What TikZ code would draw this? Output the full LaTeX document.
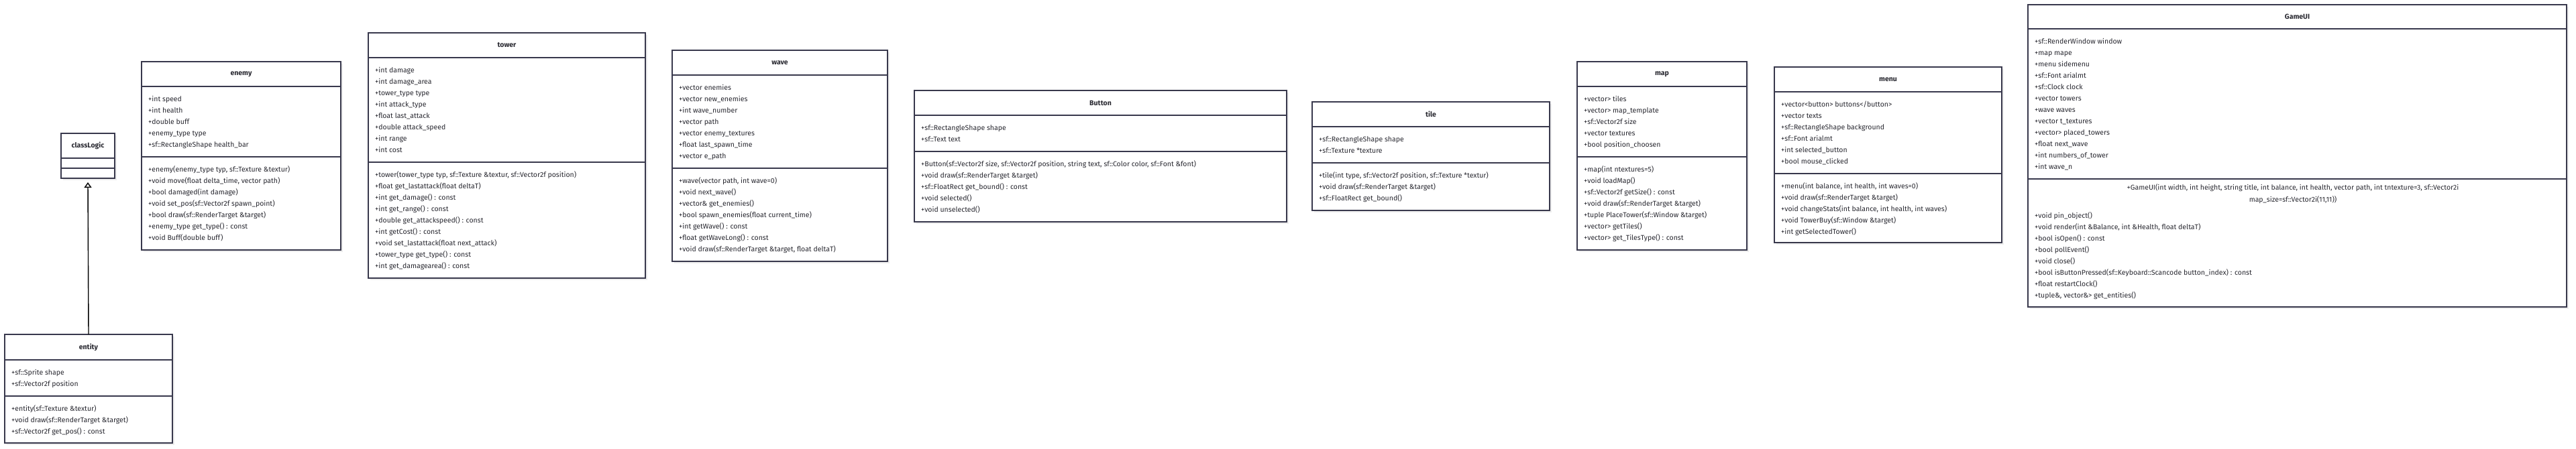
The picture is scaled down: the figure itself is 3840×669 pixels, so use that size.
\documentclass[tikz,border=0pt]{standalone}
\usepackage{fontspec}
\setmainfont{Fira Sans}
\usetikzlibrary{arrows.meta}
\definecolor{boxline}{RGB}{56,56,76}
\definecolor{txt}{RGB}{40,40,48}
\newcommand\ql{\strut}
\newcommand\ubox[5]{%
  \node[shadowbox, minimum width=#4pt, minimum height=#5pt] (#1-sh) at (#2+3,#3+3) {};
  \node[classbox, minimum width=#4pt, minimum height=#5pt] (#1) at (#2,#3) {};
}
\begin{document}
\begin{tikzpicture}[x=1pt,y=-1pt,
  classbox/.style={draw=boxline, line width=1.8pt, fill=white, inner sep=0pt, outer sep=0pt, anchor=north west},
  shadowbox/.style={fill=black!7, draw=none, inner sep=0pt, outer sep=0pt, anchor=north west},
  sepline/.style={draw=boxline, line width=1.8pt},
  hdr/.style={font=\fontsize{10.5}{17}\selectfont\bfseries, text=txt, inner sep=0pt},
  comp/.style={font=\fontsize{10.5}{17}\selectfont, text=txt, inner sep=0pt, anchor=north west, align=left},
  ctor/.style={font=\fontsize{10.5}{18}\selectfont, text=txt, inner sep=0pt, anchor=north, align=center},
  inherit/.style={draw=black, line width=1.4pt, -{Triangle[open, width=11pt, length=8pt, fill=white]}}
]
\fill[white] (0,0) rectangle (3840,669);
\useasboundingbox (0,0) rectangle (3840,669);

% classLogic
\ubox{classLogic}{91}{199}{80}{67}
\node[hdr] (classLogic-h) at (131,217.5) {classLogic};
\draw[sepline] (91,236) -- (171,236);
\draw[sepline] (91,251) -- (171,251);

% entity
\ubox{entity}{7}{499}{250}{162}
\node[hdr] (entity-h) at (132,518) {entity};
\draw[sepline] (7,537) -- (257,537);
\draw[sepline] (7,591) -- (257,591);
\node[comp] (entity-a) at (17,547) {\ql+sf::Sprite shape\\\ql+sf::Vector2f position};
\node[comp] (entity-m) at (17,601) {\ql+entity(sf::Texture \&textur)\\\ql+void draw(sf::RenderTarget \&target)\\\ql+sf::Vector2f get\_pos() : const};

\draw[inherit] (entity.north) -- ([yshift=-6pt]classLogic.south);

% enemy
\ubox{enemy}{211}{92}{297}{281}
\node[hdr] (enemy-h) at (359.5,110.5) {enemy};
\draw[sepline] (211,129) -- (508,129);
\draw[sepline] (211,234) -- (508,234);
\node[comp] (enemy-a) at (221,139) {\ql+int speed\\\ql+int health\\\ql+double buff\\\ql+enemy\_type type\\\ql+sf::RectangleShape health\_bar};
\node[comp] (enemy-m) at (221,244) {\ql+enemy(enemy\_type typ, sf::Texture \&textur)\\\ql+void move(float delta\_time, vector path)\\\ql+bool damaged(int damage)\\\ql+void set\_pos(sf::Vector2f spawn\_point)\\\ql+bool draw(sf::RenderTarget \&target)\\\ql+enemy\_type get\_type() : const\\\ql+void Buff(double buff)};

% tower
\ubox{tower}{549}{49}{413}{366}
\node[hdr] (tower-h) at (755.5,67.5) {tower};
\draw[sepline] (549,86) -- (962,86);
\draw[sepline] (549,242) -- (962,242);
\node[comp] (tower-a) at (559,96) {\ql+int damage\\\ql+int damage\_area\\\ql+tower\_type type\\\ql+int attack\_type\\\ql+float last\_attack\\\ql+double attack\_speed\\\ql+int range\\\ql+int cost};
\node[comp] (tower-m) at (559,252) {\ql+tower(tower\_type typ, sf::Texture \&textur, sf::Vector2f position)\\\ql+float get\_lastattack(float deltaT)\\\ql+int get\_damage() : const\\\ql+int get\_range() : const\\\ql+double get\_attackspeed() : const\\\ql+int getCost() : const\\\ql+void set\_lastattack(float next\_attack)\\\ql+tower\_type get\_type() : const\\\ql+int get\_damagearea() : const};

% wave
\ubox{wave}{1002}{75}{321}{315}
\node[hdr] (wave-h) at (1162.5,93.5) {wave};
\draw[sepline] (1002,112) -- (1323,112);
\draw[sepline] (1002,251) -- (1323,251);
\node[comp] (wave-a) at (1012,122) {\ql+vector enemies\\\ql+vector new\_enemies\\\ql+int wave\_number\\\ql+vector path\\\ql+vector enemy\_textures\\\ql+float last\_spawn\_time\\\ql+vector e\_path};
\node[comp] (wave-m) at (1012,261) {\ql+wave(vector path, int wave=0)\\\ql+void next\_wave()\\\ql+vector\& get\_enemies()\\\ql+bool spawn\_enemies(float current\_time)\\\ql+int getWave() : const\\\ql+float getWaveLong() : const\\\ql+void draw(sf::RenderTarget \&target, float deltaT)};

% Button
\ubox{Button}{1363}{135}{555}{196}
\node[hdr] (Button-h) at (1640.5,153.5) {Button};
\draw[sepline] (1363,172) -- (1918,172);
\draw[sepline] (1363,226) -- (1918,226);
\node[comp] (Button-a) at (1373,182) {\ql+sf::RectangleShape shape\\\ql+sf::Text text};
\node[comp] (Button-m) at (1373,236) {\ql+Button(sf::Vector2f size, sf::Vector2f position, string text, sf::Color color, sf::Font \&font)\\\ql+void draw(sf::RenderTarget \&target)\\\ql+sf::FloatRect get\_bound() : const\\\ql+void selected()\\\ql+void unselected()};

% tile
\ubox{tile}{1956}{152}{354}{162}
\node[hdr] (tile-h) at (2133,170.5) {tile};
\draw[sepline] (1956,189) -- (2310,189);
\draw[sepline] (1956,243) -- (2310,243);
\node[comp] (tile-a) at (1966,199) {\ql+sf::RectangleShape shape\\\ql+sf::Texture *texture};
\node[comp] (tile-m) at (1966,253) {\ql+tile(int type, sf::Vector2f position, sf::Texture *textur)\\\ql+void draw(sf::RenderTarget \&target)\\\ql+sf::FloatRect get\_bound()};

% map
\ubox{map}{2351}{92}{253}{281}
\node[hdr] (map-h) at (2477.5,110.5) {map};
\draw[sepline] (2351,129) -- (2604,129);
\draw[sepline] (2351,234) -- (2604,234);
\node[comp] (map-a) at (2361,139) {\ql+vector> tiles\\\ql+vector> map\_template\\\ql+sf::Vector2f size\\\ql+vector textures\\\ql+bool position\_choosen};
\node[comp] (map-m) at (2361,244) {\ql+map(int ntextures=5)\\\ql+void loadMap()\\\ql+sf::Vector2f getSize() : const\\\ql+void draw(sf::RenderTarget \&target)\\\ql+tuple PlaceTower(sf::Window \&target)\\\ql+vector> getTiles()\\\ql+vector> get\_TilesType() : const};

% menu
\ubox{menu}{2645}{100}{339}{262}
\node[hdr] (menu-h) at (2814.5,118.5) {menu};
\draw[sepline] (2645,137) -- (2984,137);
\draw[sepline] (2645,259) -- (2984,259);
\node[comp] (menu-a) at (2655,147) {\ql+vector<button> buttons</button>\\\ql+vector texts\\\ql+sf::RectangleShape background\\\ql+sf::Font arialmt\\\ql+int selected\_button\\\ql+bool mouse\_clicked};
\node[comp] (menu-m) at (2655,269) {\ql+menu(int balance, int health, int waves=0)\\\ql+void draw(sf::RenderTarget \&target)\\\ql+void changeStats(int balance, int health, int waves)\\\ql+void TowerBuy(sf::Window \&target)\\\ql+int getSelectedTower()};

% GameUI
\ubox{GameUI}{3023}{7}{803}{451}
\node[hdr] (GameUI-h) at (3424.5,25) {GameUI};
\draw[sepline] (3023,43) -- (3826,43);
\draw[sepline] (3023,267) -- (3826,267);
\node[comp] (GameUI-a) at (3033,53) {\ql+sf::RenderWindow window\\\ql+map mape\\\ql+menu sidemenu\\\ql+sf::Font arialmt\\\ql+sf::Clock clock\\\ql+vector towers\\\ql+wave waves\\\ql+vector t\_textures\\\ql+vector> placed\_towers\\\ql+float next\_wave\\\ql+int numbers\_of\_tower\\\ql+int wave\_n};
\node[ctor] (GameUI-c) at (3418,270.5) {\ql+GameUI(int width, int height, string title, int balance, int health, vector path, int tntexture=3, sf::Vector2i\\\ql map\_size=sf::Vector2i(11,11))};
\node[comp] (GameUI-m) at (3033,313.5) {\ql+void pin\_object()\\\ql+void render(int \&Balance, int \&Health, float deltaT)\\\ql+bool isOpen() : const\\\ql+bool pollEvent()\\\ql+void close()\\\ql+bool isButtonPressed(sf::Keyboard::Scancode button\_index) : const\\\ql+float restartClock()\\\ql+tuple\&, vector\&> get\_entities()};
\end{tikzpicture}
\end{document}
